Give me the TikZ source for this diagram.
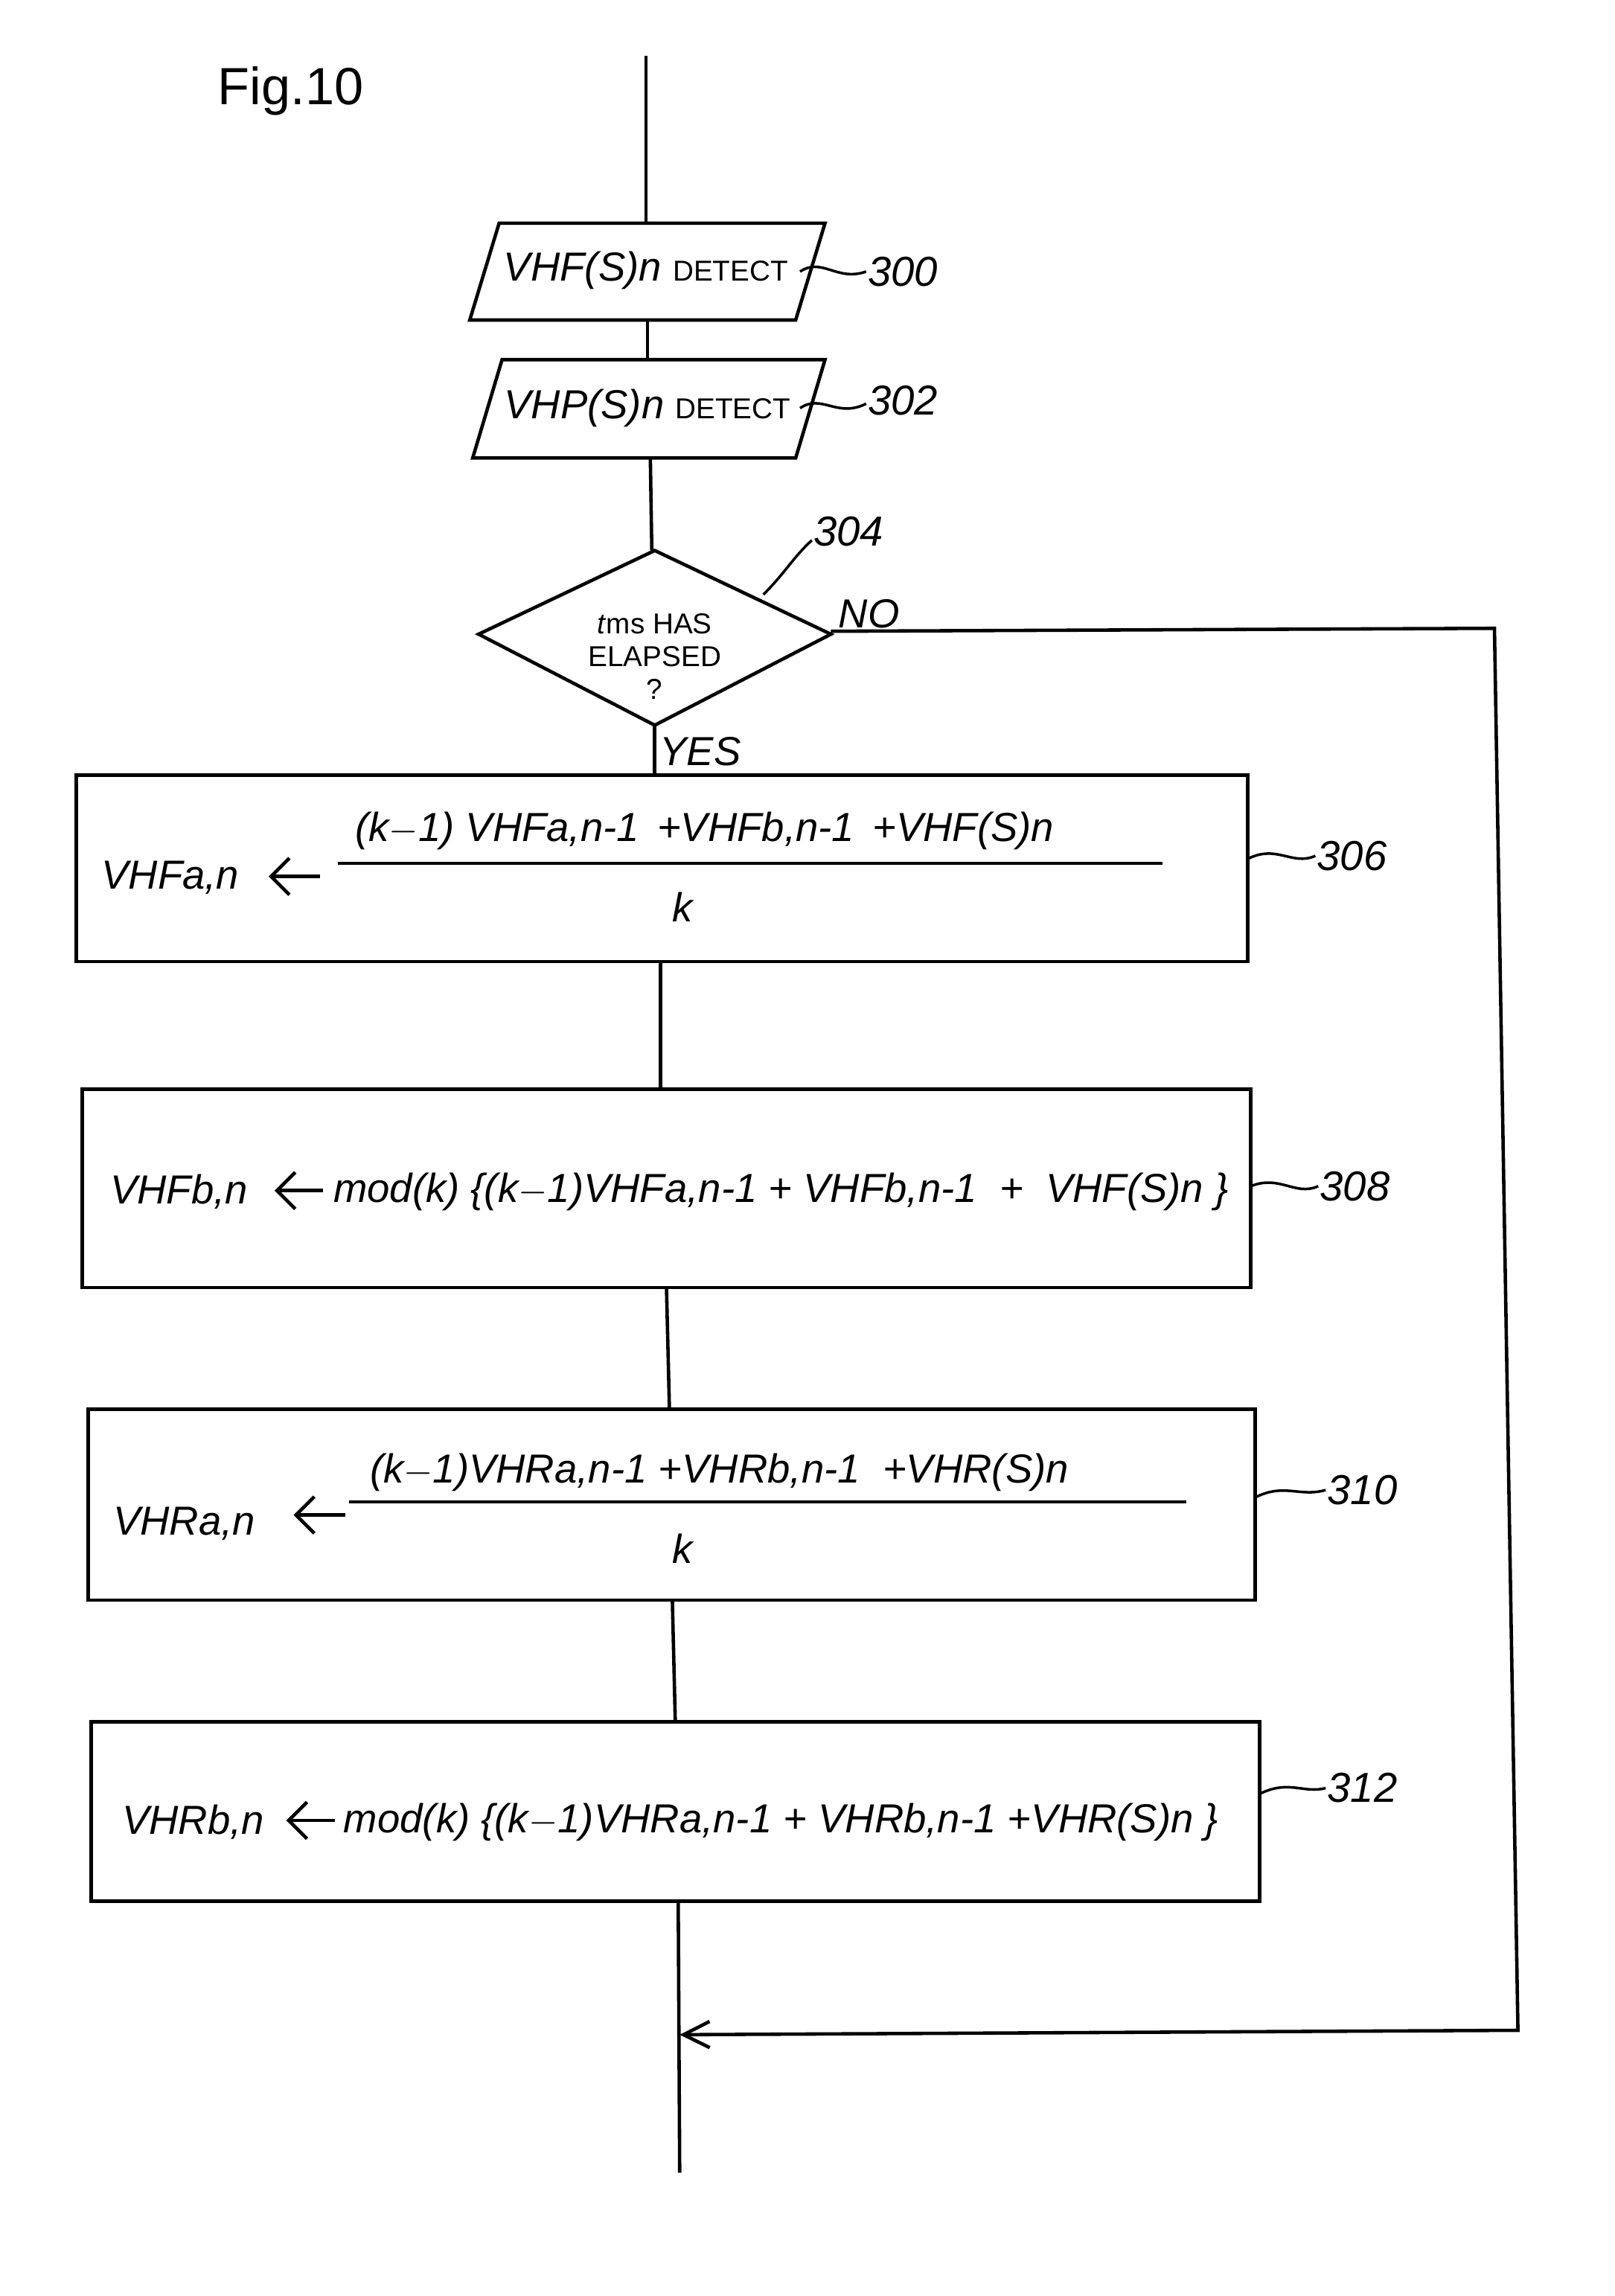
\documentclass[tikz,border=0pt]{standalone}
\usepackage{fontspec}
\setmainfont{Liberation Sans}
\usetikzlibrary{arrows.meta}
\begin{document}
\begin{tikzpicture}[x=0.01972cm,y=-0.01972cm,line width=1.3pt,
  txt/.style={font=\fontsize{15.5}{18}\selectfont\itshape,inner sep=0pt},
  sc/.style={font=\fontsize{11}{13}\selectfont\upshape},
  lab/.style={font=\fontsize{16}{18}\selectfont\itshape,inner sep=0pt,anchor=west},
  sq/.style={line width=1pt},
  arr/.style={-{Straight Barb[length=7pt]}},
  box/.style={draw,line width=1.3pt}]
\useasboundingbox (0,0) rectangle (1100,1564);
\node[font=\fontsize{20}{24}\selectfont] at (198,62) {Fig.10};
% parallelograms
\draw (340,152)--(562,152)--(542,218)--(320,218)--cycle;
\node[txt] (p300) at (440,184) {VHF(S)n {\fontsize{11}{13}\selectfont\upshape DETECT}};
\draw (342,245)--(562,245)--(542,312)--(322,312)--cycle;
\node[txt] (p302) at (441,278) {VHP(S)n {\fontsize{11}{13}\selectfont\upshape DETECT}};
% diamond
\draw (446,375)--(566,432)--(446,494)--(326,432)--cycle;
\node[font=\fontsize{11}{12.5}\selectfont,align=center] (d304) at (446,447) {\textit{t}ms HAS\\ELAPSED\\?};
% boxes
\draw[box] (52,528) rectangle (850,655);
\draw[box] (56,742) rectangle (852,877);
\draw[box] (60,960) rectangle (855,1090);
\draw[box] (62,1173) rectangle (858,1295);
% main line
\draw (440,38)--(440,152);
\draw (441,218)--(441,245);
\draw (443,312)--(444,375);
\draw (446,494)--(446,528);
\draw (450,655)--(450,742);
\draw (454,877)--(456,960);
\draw (458,1090)--(460,1173);
\draw (462,1295)--(463,1480);
% NO loop
\draw[-{Straight Barb[length=10pt,width=10pt]}] (566,430)--(1018,428)--(1034,1383)--(463,1386);
\node[txt] at (592,418) {NO};
\node[txt] at (477,512) {YES};
% 306
\node[txt,anchor=west] at (68,598) {VHFa,n};
\draw[arr] (218,597)--(183,597);
\node[txt] at (480,566) {(k$-$1) VHFa,n-1 \,+VHFb,n-1 \,+VHF(S)n};
\draw[line width=1pt] (230,588)--(792,588);
\node[txt] at (465,618) {k};
% 308
\node[txt,anchor=west] at (74,812) {VHFb,n};
\draw[arr] (220,811)--(187,811);
\node[txt,anchor=west] at (226,812) {mod(k) \{(k$-$1)VHFa,n-1 + VHFb,n-1 \ + \ VHF(S)n \}};
% 310
\node[txt,anchor=west] at (76,1038) {VHRa,n};
\draw[arr] (235,1032)--(200,1032);
\node[txt] at (490,1003) {(k$-$1)VHRa,n-1 +VHRb,n-1 \ +VHR(S)n};
\draw[line width=1pt] (238,1023)--(808,1023);
\node[txt] at (465,1055) {k};
% 312
\node[txt,anchor=west] at (82,1241) {VHRb,n};
\draw[arr] (228,1240)--(195,1240);
\node[txt,anchor=west] at (233,1241) {mod(k) \{(k$-$1)VHRa,n-1 + VHRb,n-1 +VHR(S)n \}};
% reference labels
\draw[sq] (545,185) .. controls (560,175) and (570,192) .. (590,185);
\node[lab] at (590,185) {300};
\draw[sq] (545,278) .. controls (560,268) and (570,285) .. (590,275);
\node[lab] at (590,273) {302};
\draw[sq] (520,405) .. controls (535,390) and (540,380) .. (553,368);
\node[lab] at (553,362) {304};
\draw[sq] (850,585) .. controls (870,575) and (880,590) .. (896,583);
\node[lab] at (896,583) {306};
\draw[sq] (852,808) .. controls (872,800) and (882,815) .. (898,808);
\node[lab] at (898,808) {308};
\draw[sq] (855,1020) .. controls (875,1010) and (885,1020) .. (903,1015);
\node[lab] at (903,1015) {310};
\draw[sq] (858,1222) .. controls (878,1212) and (888,1222) .. (903,1218);
\node[lab] at (903,1218) {312};
\end{tikzpicture}
\end{document}
